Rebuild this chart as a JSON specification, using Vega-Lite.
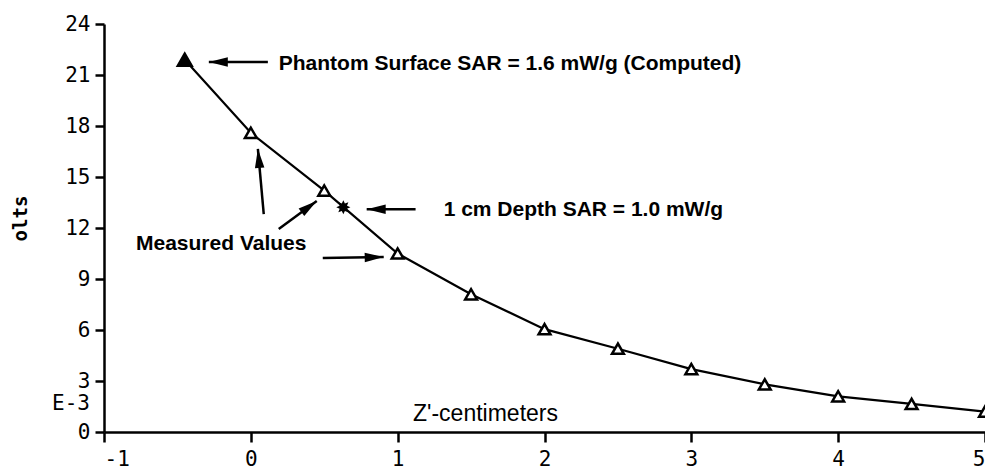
{
  "$schema": "https://vega.github.io/schema/vega-lite/v6.json",
  "autosize": {"type": "none"},
  "padding": {"left": 104, "top": 24, "right": 0, "bottom": 40},
  "width": 881,
  "height": 408,
  "background": "white",
  "config": {
    "view": {"stroke": null},
    "axis": {
      "grid": false,
      "domainColor": "black",
      "domainWidth": 2.5,
      "tickColor": "black",
      "tickWidth": 2.5,
      "labelColor": "black",
      "labelFont": "DejaVu Sans Mono",
      "labelFontSize": 21,
      "titleColor": "black",
      "titleFontWeight": "normal"
    }
  },
  "datasets": {
    "points": [
      {"z": -0.45, "v": 21.9, "type": "computed"},
      {"z": 0.0, "v": 17.6, "type": "measured"},
      {"z": 0.5, "v": 14.2, "type": "measured"},
      {"z": 1.0, "v": 10.5, "type": "measured"},
      {"z": 1.5, "v": 8.1, "type": "measured"},
      {"z": 2.0, "v": 6.05, "type": "measured"},
      {"z": 2.5, "v": 4.9, "type": "measured"},
      {"z": 3.0, "v": 3.7, "type": "measured"},
      {"z": 3.5, "v": 2.8, "type": "measured"},
      {"z": 4.0, "v": 2.1, "type": "measured"},
      {"z": 4.5, "v": 1.65, "type": "measured"},
      {"z": 5.0, "v": 1.2, "type": "measured"}
    ],
    "star": [{"z": 0.63, "v": 13.22}],
    "arrows": [
      {"x1": 0.116, "y1": 21.76, "x2": -0.286, "y2": 21.76, "angle": 270},
      {"x1": 1.122, "y1": 13.1, "x2": 0.789, "y2": 13.1, "angle": 270},
      {"x1": 0.088, "y1": 12.82, "x2": 0.048, "y2": 16.65, "angle": 354.6},
      {"x1": 0.19, "y1": 11.94, "x2": 0.449, "y2": 13.59, "angle": 53.6},
      {"x1": 0.49, "y1": 10.24, "x2": 0.905, "y2": 10.29, "angle": 89}
    ],
    "labels": [
      {"z": 0.19, "v": 21.65, "text": "Phantom Surface SAR = 1.6 mW/g (Computed)"},
      {"z": 1.313, "v": 13.05, "text": "1 cm Depth SAR = 1.0 mW/g"},
      {"z": -0.782, "v": 11.06, "text": "Measured Values"}
    ],
    "unit": [{"z": -1, "v": 1.65, "text": "E-3"}]
  },
  "layer": [
    {
      "data": {"name": "points"},
      "mark": {"type": "line", "color": "black", "strokeWidth": 2.2},
      "encoding": {
        "x": {
          "field": "z", "type": "quantitative",
          "scale": {"domain": [-1, 5], "nice": false, "zero": false},
          "axis": {
            "values": [-1, 0, 1, 2, 3, 4, 5],
            "labelExpr": "'' + datum.value",
            "labelFont": "DejaVu Sans Mono",
            "labelFontSize": 21,
            "tickSize": 10,
            "labelPadding": 6,
            "title": "Z'-centimeters",
            "titleFont": "Liberation Sans",
            "titleFontSize": 23,
            "titleX": 381,
            "titleY": -19,
            "titleAlign": "center",
            "titleBaseline": "middle"
          }
        },
        "y": {
          "field": "v", "type": "quantitative",
          "scale": {"domain": [0, 24], "nice": false, "zero": false},
          "axis": {
            "values": [0, 3, 6, 9, 12, 15, 18, 21, 24],
            "labelFont": "DejaVu Sans Mono",
            "labelFontSize": 21,
            "tickSize": 9,
            "labelPadding": 5,
            "title": "olts",
            "titleFont": "DejaVu Sans Mono",
            "titleFontSize": 19,
            "titleFontWeight": "bold",
            "titleX": -84,
            "titleY": 194,
            "titleAngle": 270,
            "titleAlign": "center",
            "titleBaseline": "middle"
          }
        }
      }
    },
    {
      "data": {"name": "points"},
      "mark": {"type": "point", "shape": "triangle-up", "stroke": "black", "strokeWidth": 2.5, "filled": false, "opacity": 1},
      "encoding": {
        "x": {"field": "z", "type": "quantitative"},
        "y": {"field": "v", "type": "quantitative"},
        "fill": {"field": "type", "type": "nominal", "scale": {"domain": ["computed", "measured"], "range": ["black", "white"]}, "legend": null},
        "size": {"field": "type", "type": "nominal", "scale": {"domain": ["computed", "measured"], "range": [190, 140]}, "legend": null}
      }
    },
    {
      "data": {"name": "star"},
      "mark": {"type": "point", "shape": "M0,-1L0.22,-0.52L0.71,-0.71L0.52,-0.22L1,0L0.52,0.22L0.71,0.71L0.22,0.52L0,1L-0.22,0.52L-0.71,0.71L-0.52,0.22L-1,0L-0.52,-0.22L-0.71,-0.71L-0.22,-0.52Z", "filled": true, "color": "black", "size": 200, "opacity": 1},
      "encoding": {
        "x": {"field": "z", "type": "quantitative"},
        "y": {"field": "v", "type": "quantitative"}
      }
    },
    {
      "data": {"name": "arrows"},
      "mark": {"type": "rule", "color": "black", "strokeWidth": 2.5},
      "encoding": {
        "x": {"field": "x1", "type": "quantitative"},
        "y": {"field": "y1", "type": "quantitative"},
        "x2": {"field": "x2"},
        "y2": {"field": "y2"}
      }
    },
    {
      "data": {"name": "arrows"},
      "mark": {"type": "point", "shape": "M0,0L0.5,2L-0.5,2Z", "filled": true, "color": "black", "size": 361, "opacity": 1},
      "encoding": {
        "x": {"field": "x2", "type": "quantitative"},
        "y": {"field": "y2", "type": "quantitative"},
        "angle": {"field": "angle", "type": "quantitative", "scale": null}
      }
    },
    {
      "data": {"name": "labels"},
      "mark": {"type": "text", "align": "left", "baseline": "middle", "font": "Liberation Sans", "fontWeight": "bold", "fontSize": 21, "color": "black"},
      "encoding": {
        "x": {"field": "z", "type": "quantitative"},
        "y": {"field": "v", "type": "quantitative"},
        "text": {"field": "text"}
      }
    },
    {
      "data": {"name": "unit"},
      "mark": {"type": "text", "align": "right", "baseline": "middle", "font": "DejaVu Sans Mono", "fontSize": 21, "color": "black", "dx": -14},
      "encoding": {
        "x": {"field": "z", "type": "quantitative"},
        "y": {"field": "v", "type": "quantitative"},
        "text": {"field": "text"}
      }
    }
  ]
}
